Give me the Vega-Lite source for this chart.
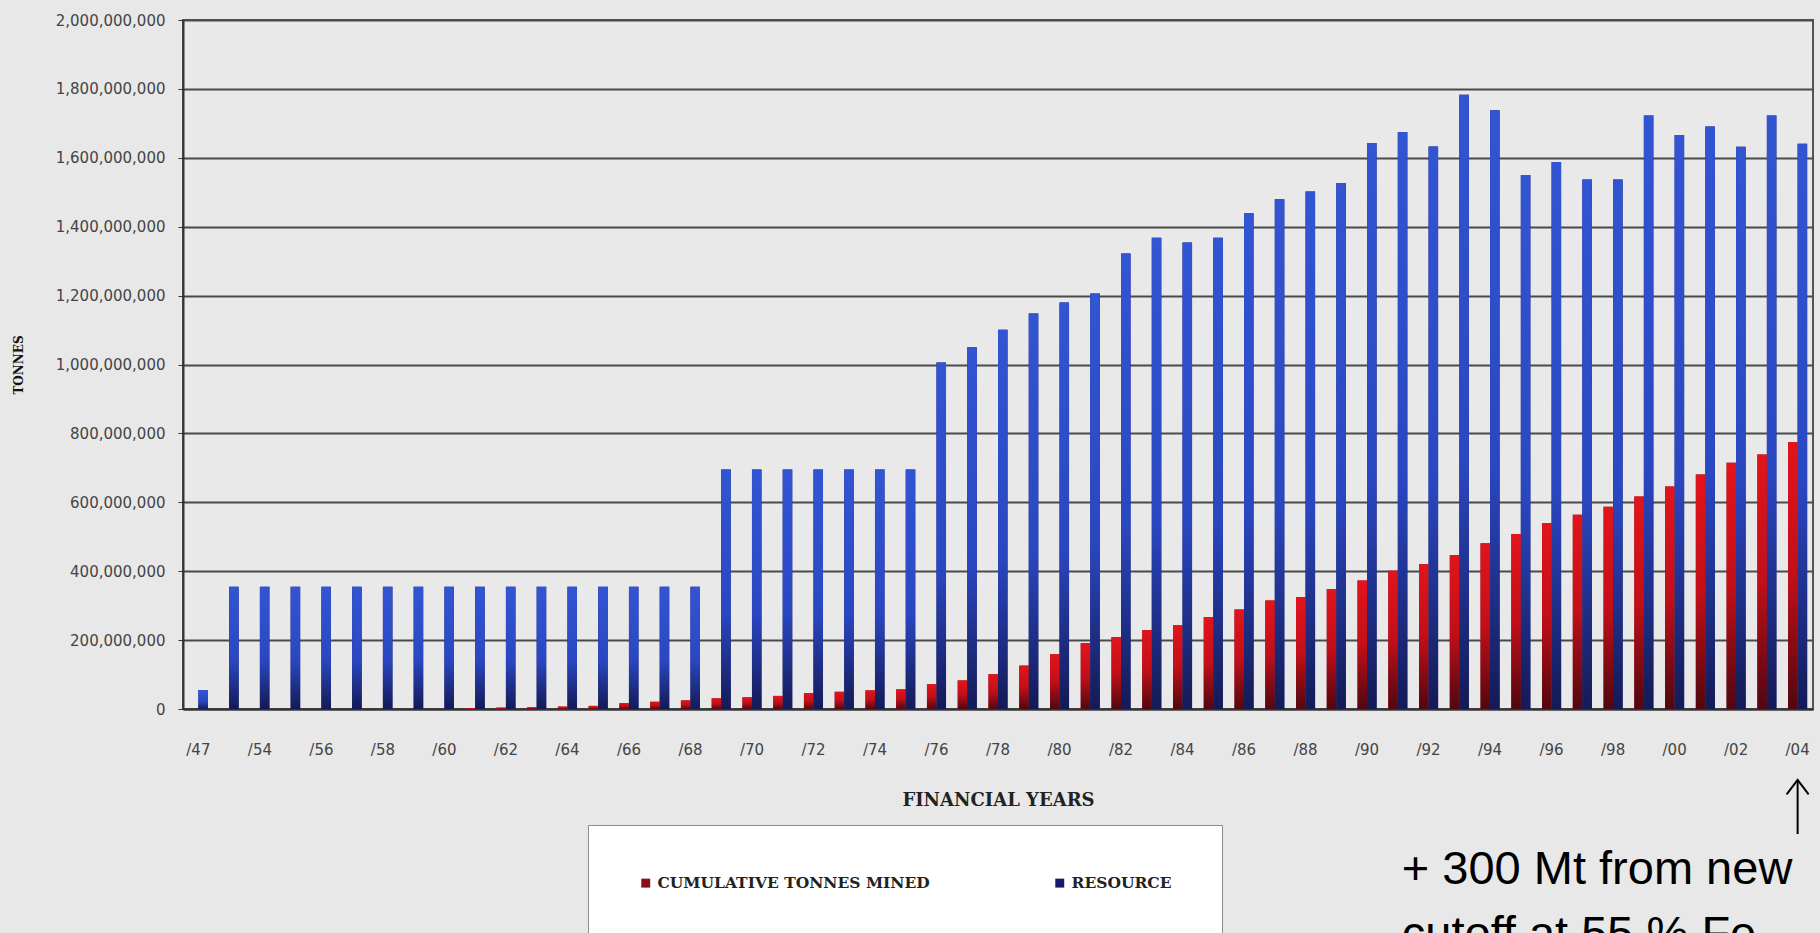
{
  "$schema": "https://vega.github.io/schema/vega-lite/v6.json",
  "width": 1630,
  "height": 689,
  "autosize": {"type": "none"},
  "padding": {"left": 183, "top": 20, "right": 7, "bottom": 224},
  "background": "#e8e8e8",
  "config": {
    "view": {"fill": "#e9e9e9", "stroke": "#555555", "strokeWidth": 2},
    "font": "DejaVu Sans"
  },
  "datasets": {
    "wide": [
      {"year": "/47", "CUMULATIVE TONNES MINED": 0, "RESOURCE": 55000000},
      {"year": "/53", "CUMULATIVE TONNES MINED": 0, "RESOURCE": 355000000},
      {"year": "/54", "CUMULATIVE TONNES MINED": 0, "RESOURCE": 355000000},
      {"year": "/55", "CUMULATIVE TONNES MINED": 0, "RESOURCE": 355000000},
      {"year": "/56", "CUMULATIVE TONNES MINED": 0, "RESOURCE": 355000000},
      {"year": "/57", "CUMULATIVE TONNES MINED": 0, "RESOURCE": 355000000},
      {"year": "/58", "CUMULATIVE TONNES MINED": 0, "RESOURCE": 355000000},
      {"year": "/59", "CUMULATIVE TONNES MINED": 0, "RESOURCE": 355000000},
      {"year": "/60", "CUMULATIVE TONNES MINED": 0, "RESOURCE": 355000000},
      {"year": "/61", "CUMULATIVE TONNES MINED": 2000000, "RESOURCE": 355000000},
      {"year": "/62", "CUMULATIVE TONNES MINED": 4000000, "RESOURCE": 355000000},
      {"year": "/63", "CUMULATIVE TONNES MINED": 5000000, "RESOURCE": 355000000},
      {"year": "/64", "CUMULATIVE TONNES MINED": 7000000, "RESOURCE": 355000000},
      {"year": "/65", "CUMULATIVE TONNES MINED": 9000000, "RESOURCE": 355000000},
      {"year": "/66", "CUMULATIVE TONNES MINED": 17000000, "RESOURCE": 355000000},
      {"year": "/67", "CUMULATIVE TONNES MINED": 21000000, "RESOURCE": 355000000},
      {"year": "/68", "CUMULATIVE TONNES MINED": 25000000, "RESOURCE": 355000000},
      {"year": "/69", "CUMULATIVE TONNES MINED": 31000000, "RESOURCE": 695000000},
      {"year": "/70", "CUMULATIVE TONNES MINED": 34000000, "RESOURCE": 695000000},
      {"year": "/71", "CUMULATIVE TONNES MINED": 38000000, "RESOURCE": 695000000},
      {"year": "/72", "CUMULATIVE TONNES MINED": 46000000, "RESOURCE": 695000000},
      {"year": "/73", "CUMULATIVE TONNES MINED": 50000000, "RESOURCE": 695000000},
      {"year": "/74", "CUMULATIVE TONNES MINED": 54000000, "RESOURCE": 695000000},
      {"year": "/75", "CUMULATIVE TONNES MINED": 57000000, "RESOURCE": 695000000},
      {"year": "/76", "CUMULATIVE TONNES MINED": 72000000, "RESOURCE": 1006000000},
      {"year": "/77", "CUMULATIVE TONNES MINED": 83000000, "RESOURCE": 1051000000},
      {"year": "/78", "CUMULATIVE TONNES MINED": 101000000, "RESOURCE": 1101000000},
      {"year": "/79", "CUMULATIVE TONNES MINED": 126000000, "RESOURCE": 1148000000},
      {"year": "/80", "CUMULATIVE TONNES MINED": 159000000, "RESOURCE": 1180000000},
      {"year": "/81", "CUMULATIVE TONNES MINED": 191000000, "RESOURCE": 1206000000},
      {"year": "/82", "CUMULATIVE TONNES MINED": 209000000, "RESOURCE": 1322000000},
      {"year": "/83", "CUMULATIVE TONNES MINED": 229000000, "RESOURCE": 1368000000},
      {"year": "/84", "CUMULATIVE TONNES MINED": 243000000, "RESOURCE": 1354000000},
      {"year": "/85", "CUMULATIVE TONNES MINED": 267000000, "RESOURCE": 1368000000},
      {"year": "/86", "CUMULATIVE TONNES MINED": 289000000, "RESOURCE": 1439000000},
      {"year": "/87", "CUMULATIVE TONNES MINED": 315000000, "RESOURCE": 1480000000},
      {"year": "/88", "CUMULATIVE TONNES MINED": 325000000, "RESOURCE": 1502000000},
      {"year": "/89", "CUMULATIVE TONNES MINED": 348000000, "RESOURCE": 1527000000},
      {"year": "/90", "CUMULATIVE TONNES MINED": 373000000, "RESOURCE": 1643000000},
      {"year": "/91", "CUMULATIVE TONNES MINED": 401000000, "RESOURCE": 1675000000},
      {"year": "/92", "CUMULATIVE TONNES MINED": 420000000, "RESOURCE": 1633000000},
      {"year": "/93", "CUMULATIVE TONNES MINED": 446000000, "RESOURCE": 1783000000},
      {"year": "/94", "CUMULATIVE TONNES MINED": 481000000, "RESOURCE": 1738000000},
      {"year": "/95", "CUMULATIVE TONNES MINED": 508000000, "RESOURCE": 1550000000},
      {"year": "/96", "CUMULATIVE TONNES MINED": 540000000, "RESOURCE": 1588000000},
      {"year": "/97", "CUMULATIVE TONNES MINED": 564000000, "RESOURCE": 1537000000},
      {"year": "/98", "CUMULATIVE TONNES MINED": 587000000, "RESOURCE": 1537000000},
      {"year": "/99", "CUMULATIVE TONNES MINED": 617000000, "RESOURCE": 1723000000},
      {"year": "/00", "CUMULATIVE TONNES MINED": 646000000, "RESOURCE": 1666000000},
      {"year": "/01", "CUMULATIVE TONNES MINED": 681000000, "RESOURCE": 1691000000},
      {"year": "/02", "CUMULATIVE TONNES MINED": 715000000, "RESOURCE": 1632000000},
      {"year": "/03", "CUMULATIVE TONNES MINED": 739000000, "RESOURCE": 1723000000},
      {"year": "/04", "CUMULATIVE TONNES MINED": 775000000, "RESOURCE": 1641000000}
    ],
    "notes": [
      {"year": "/91", "tonnes": -508000000, "label": "+ 300 Mt from new"},
      {"year": "/91", "tonnes": -697000000, "label": "cutoff at 55 % Fe"}
    ],
    "arrow": [
      {"year": "/04", "tonnes": -206000000, "bottom": -363000000}
    ]
  },
  "layer": [
    {
      "data": {"name": "wide"},
      "transform": [{"fold": ["CUMULATIVE TONNES MINED", "RESOURCE"], "as": ["series", "tonnes"]}],
      "mark": {"type": "bar"},
      "encoding": {
        "x": {
          "field": "year", "type": "nominal",
          "scale": {
            "domain": ["/47","/53","/54","/55","/56","/57","/58","/59","/60","/61","/62","/63","/64","/65","/66","/67","/68","/69","/70","/71","/72","/73","/74","/75","/76","/77","/78","/79","/80","/81","/82","/83","/84","/85","/86","/87","/88","/89","/90","/91","/92","/93","/94","/95","/96","/97","/98","/99","/00","/01","/02","/03","/04"],
            "paddingInner": 0.38, "paddingOuter": 0.19
          },
          "axis": {
            "values": ["/47","/54","/56","/58","/60","/62","/64","/66","/68","/70","/72","/74","/76","/78","/80","/82","/84","/86","/88","/90","/92","/94","/96","/98","/00","/02","/04"],
            "title": "FINANCIAL YEARS",
            "labelAngle": 0,
            "ticks": false,
            "grid": false,
            "domainColor": "#333333",
            "domainWidth": 2,
            "labelPadding": 33,
            "labelFont": "DejaVu Sans",
            "labelFontSize": 15,
            "labelColor": "#444444",
            "titleFont": "DejaVu Serif",
            "titleFontWeight": "bold",
            "titleFontSize": 18,
            "titleColor": "#222222",
            "titlePadding": 34
          }
        },
        "xOffset": {"field": "series", "type": "nominal", "scale": {"domain": ["CUMULATIVE TONNES MINED", "RESOURCE"]}},
        "y": {
          "field": "tonnes", "type": "quantitative",
          "scale": {"domain": [0, 2000000000], "nice": false},
          "axis": {
            "values": [0, 200000000, 400000000, 600000000, 800000000, 1000000000, 1200000000, 1400000000, 1600000000, 1800000000, 2000000000],
            "format": ",d",
            "title": "TONNES",
            "grid": true,
            "gridColor": "#4a4a4a",
            "gridWidth": 2,
            "domainColor": "#333333",
            "domainWidth": 2,
            "tickColor": "#333333",
            "tickSize": 5,
            "labelPadding": 13,
            "labelFont": "DejaVu Sans",
            "labelFontSize": 15,
            "labelColor": "#444444",
            "titleFont": "DejaVu Serif",
            "titleFontWeight": "bold",
            "titleFontSize": 12,
            "titleColor": "#111111",
            "titlePadding": 30
          }
        },
        "color": {
          "field": "series", "type": "nominal",
          "scale": {"domain": ["CUMULATIVE TONNES MINED", "RESOURCE"], "range": ["#8a0f1e", "#17196a"]},
          "legend": {
            "title": null,
            "orient": "none",
            "legendX": 405,
            "legendY": 805,
            "direction": "horizontal",
            "columns": 2,
            "columnPadding": 122,
            "padding": 50,
            "fillColor": "#ffffff",
            "strokeColor": "#8c8c8c",
            "symbolType": "square",
            "symbolSize": 80,
            "symbolStrokeWidth": 0,
            "labelFont": "DejaVu Serif",
            "labelFontWeight": "bold",
            "labelFontSize": 15.5,
            "labelColor": "#222222",
            "labelLimit": 400
          }
        }
      }
    },
    {
      "data": {"name": "wide"},
      "transform": [
        {"fold": ["CUMULATIVE TONNES MINED", "RESOURCE"], "as": ["series", "tonnes"]},
        {"filter": "datum.series === 'CUMULATIVE TONNES MINED'"}
      ],
      "mark": {
        "type": "bar",
        "fill": {"gradient": "linear", "x1": 0, "y1": 0, "x2": 0, "y2": 1,
          "stops": [{"offset": 0, "color": "#e3141b"}, {"offset": 0.5, "color": "#c20f18"}, {"offset": 1, "color": "#500710"}]}
      },
      "encoding": {
        "x": {"field": "year", "type": "nominal"},
        "xOffset": {"field": "series", "type": "nominal"},
        "y": {"field": "tonnes", "type": "quantitative"}
      }
    },
    {
      "data": {"name": "wide"},
      "transform": [
        {"fold": ["CUMULATIVE TONNES MINED", "RESOURCE"], "as": ["series", "tonnes"]},
        {"filter": "datum.series === 'RESOURCE'"}
      ],
      "mark": {
        "type": "bar",
        "fill": {"gradient": "linear", "x1": 0, "y1": 0, "x2": 0, "y2": 1,
          "stops": [{"offset": 0, "color": "#3255d4"}, {"offset": 0.6, "color": "#2a47c2"}, {"offset": 1, "color": "#141a55"}]}
      },
      "encoding": {
        "x": {"field": "year", "type": "nominal"},
        "xOffset": {"field": "series", "type": "nominal"},
        "y": {"field": "tonnes", "type": "quantitative"}
      }
    },
    {
      "data": {"name": "notes"},
      "mark": {"type": "text", "align": "left", "baseline": "alphabetic", "dx": 4, "font": "Liberation Sans", "fontSize": 47, "color": "#000000"},
      "encoding": {
        "x": {"field": "year", "type": "nominal"},
        "y": {"field": "tonnes", "type": "quantitative"},
        "text": {"field": "label"}
      }
    },
    {
      "data": {"name": "arrow"},
      "mark": {"type": "rule", "color": "#000000", "strokeWidth": 2},
      "encoding": {
        "x": {"field": "year", "type": "nominal"},
        "y": {"field": "tonnes", "type": "quantitative"},
        "y2": {"field": "bottom"}
      }
    },
    {
      "data": {"name": "arrow"},
      "mark": {"type": "point", "shape": "M-1,1.3L0,0L1,1.3", "filled": false, "stroke": "#000000", "strokeWidth": 2, "size": 484, "opacity": 1},
      "encoding": {
        "x": {"field": "year", "type": "nominal"},
        "y": {"field": "tonnes", "type": "quantitative"}
      }
    }
  ]
}
